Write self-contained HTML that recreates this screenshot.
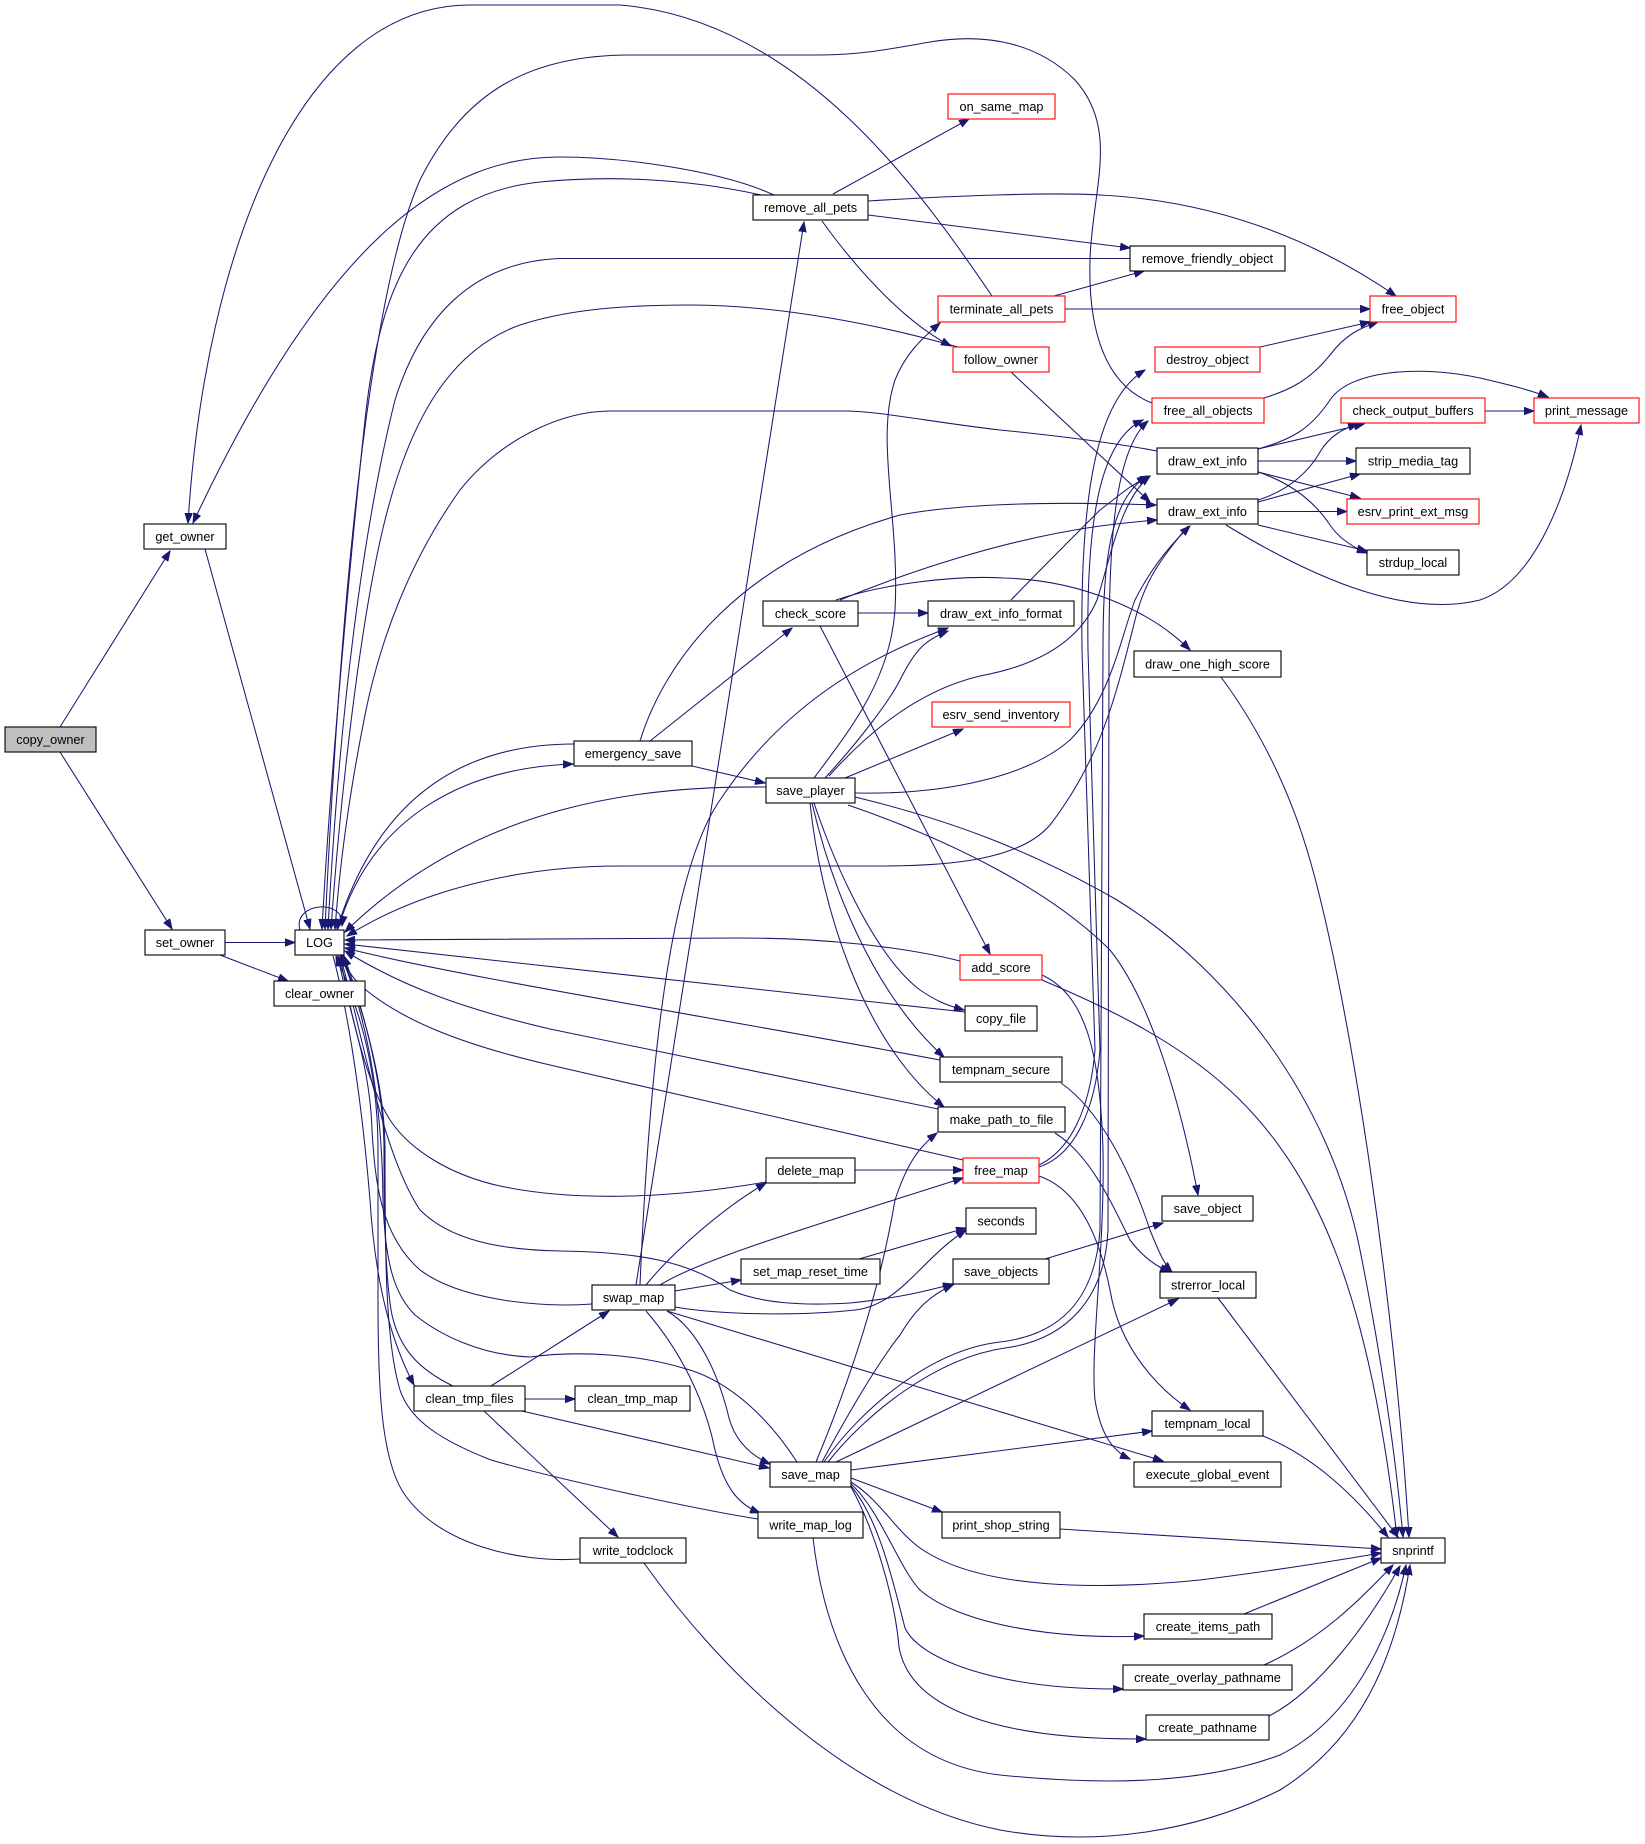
<!DOCTYPE html>
<html><head><meta charset="utf-8"><style>
html,body{margin:0;padding:0;background:#fff;}
svg{display:block;}
text{font-family:"Liberation Sans",Arial,sans-serif;font-size:12.7px;fill:#000;text-anchor:middle;}
.e{fill:none;stroke:#191970;stroke-width:1.05;marker-end:url(#a);}
.n{fill:#fff;stroke:#000;stroke-width:1.1;}
.r{fill:#fff;stroke:#ff0000;stroke-width:1.1;}
</style></head><body>
<svg width="1645" height="1844" viewBox="0 0 1645 1844" xmlns="http://www.w3.org/2000/svg">
<defs><marker id="a" markerWidth="11" markerHeight="8" refX="10" refY="4" orient="auto" markerUnits="userSpaceOnUse"><path d="M0,0.3 L10,4 L0,7.7 z" fill="#191970" stroke="#191970" stroke-width="1"/></marker></defs>
<g>
<path class="e" d="M60,727 L170,551"/>
<path class="e" d="M60,752 L172,929"/>
<path class="e" d="M205,549 L310,929"/>
<path class="e" d="M225,942.5 L295,942.5"/>
<path class="e" d="M220,955 L288,981"/>
<path class="e" d="M300,930 C292,902 346,898 342,926"/>
<path class="e" d="M992,296 C920,190 800,20 620,5 L470,5 C300,5 205,250 188,523"/>
<path class="e" d="M774,195 C720,170 620,157 560,157 C450,157 330,230 193,523"/>
<path class="e" d="M761,195 C680,177 600,176 540,182 C420,195 380,280 365,420 C350,560 330,780 322,929"/>
<path class="e" d="M1152,403 C1105,385 1088,330 1090,260 C1092,190 1120,130 1075,80 C1040,45 990,32 930,42 C890,49 860,55 820,55 L630,55 C520,55 460,100 420,180 C380,270 345,500 325,929"/>
<path class="e" d="M1130,258.5 L560,258.5 C470,262 420,320 395,400 C365,520 340,700 328,929"/>
<path class="e" d="M958,347 C880,325 780,305 690,305 C610,305 560,312 520,325 C450,350 410,420 385,520 C360,620 340,800 331,929"/>
<path class="e" d="M1157,451 C1120,444 1060,436 1000,430 C930,422 880,411 843,411 L611,411 C560,411 500,440 460,490 C410,560 380,640 365,715 C350,790 340,860 335,929"/>
<path class="e" d="M574,744 C470,744 380,790 337,929"/>
<path class="e" d="M338,929 C370,820 460,768 573,764"/>
<path class="e" d="M766,787 C650,786 480,800 345,932"/>
<path class="e" d="M1188,526 C1160,560 1145,580 1135,620 C1115,700 1100,760 1050,825 C1020,860 950,866 880,866 L620,866 C520,866 420,890 347,936"/>
<path class="e" d="M960,961 C900,946 820,938 740,938 L345,940"/>
<path class="e" d="M965,1012 L345,944"/>
<path class="e" d="M940,1060 C700,1015 450,975 345,948"/>
<path class="e" d="M938,1109 L550,1029 C460,1008 400,985 345,951"/>
<path class="e" d="M963,1160 L550,1065 C460,1044 400,1020 360,985 C350,975 345,965 343,956"/>
<path class="e" d="M766,1182 C680,1197 580,1203 500,1186 C450,1175 410,1150 390,1120 C365,1080 350,1010 340,956"/>
<path class="e" d="M592,1304 C540,1308 460,1300 420,1270 C380,1235 375,1180 372,1130 C370,1060 345,1000 338,956"/>
<path class="e" d="M797,1462 C770,1420 730,1380 683,1368 C640,1355 580,1350 530,1357 C480,1355 440,1335 415,1315 C395,1295 385,1265 383,1200 C382,1080 360,1000 341,956"/>
<path class="e" d="M758,1519 C700,1510 560,1480 491,1460 C440,1440 410,1420 400,1390 C385,1340 385,1250 385,1150 C385,1080 360,1000 342,956"/>
<path class="e" d="M580,1559 C520,1563 440,1545 405,1495 C380,1460 378,1380 378,1300 L378,1150 C378,1060 355,1000 336,956"/>
<path class="e" d="M453,1386 C420,1370 400,1350 392,1315 C385,1280 384,1200 384,1150 C384,1080 360,1000 344,956"/>
<path class="e" d="M333,956 C345,1000 360,1080 370,1200 C375,1280 390,1340 414,1385"/>
<path class="e" d="M340,956 C360,1020 380,1150 420,1210 C450,1240 500,1250 560,1251 C640,1252 690,1262 730,1290 C760,1303 800,1306 850,1303 C900,1298 930,1290 953,1284"/>
<path class="e" d="M525,1399 L575,1399"/>
<path class="e" d="M491,1386 L609,1311"/>
<path class="e" d="M522,1411 L769,1468"/>
<path class="e" d="M484,1411 L618,1537"/>
<path class="e" d="M646,1285 C670,1255 720,1210 766,1183"/>
<path class="e" d="M660,1285 C700,1260 800,1230 963,1178"/>
<path class="e" d="M675,1291 L741,1280"/>
<path class="e" d="M675,1307 C720,1315 800,1316 855,1310 C900,1305 920,1260 966,1230"/>
<path class="e" d="M667,1311 L1163,1461"/>
<path class="e" d="M667,1311 C700,1330 720,1380 729,1418 C735,1440 750,1455 770,1464"/>
<path class="e" d="M646,1311 C680,1350 705,1400 715,1450 C725,1490 740,1505 760,1513"/>
<path class="e" d="M636,1285 L804,222"/>
<path class="e" d="M640,1285 C648,1100 665,880 720,800 C780,710 860,660 948,628"/>
<path class="e" d="M859,1259 L966,1228"/>
<path class="e" d="M855,1170 L963,1170"/>
<path class="e" d="M1045,1259 L1163,1223"/>
<path class="e" d="M816,1462 C850,1380 880,1290 895,1200 C905,1170 915,1150 937,1133"/>
<path class="e" d="M822,1462 C850,1410 880,1360 900,1335 C915,1310 930,1295 953,1285"/>
<path class="e" d="M1039,1165 C1070,1150 1090,1110 1095,1050 L1082,650 C1080,500 1095,400 1145,370"/>
<path class="e" d="M1039,1167 C1075,1155 1095,1110 1100,1050 L1088,650 C1086,520 1100,440 1143,420"/>
<path class="e" d="M824,1462 C860,1410 930,1350 1000,1342 C1060,1335 1095,1300 1100,1230 L1103,650 C1103,560 1110,500 1147,476"/>
<path class="e" d="M828,1462 C865,1415 935,1358 1005,1348 C1065,1340 1105,1300 1108,1230 L1109,650 C1109,540 1115,450 1148,421"/>
<path class="e" d="M836,1462 L1178,1299"/>
<path class="e" d="M851,1470 L1152,1431"/>
<path class="e" d="M851,1478 L942,1512"/>
<path class="e" d="M851,1482 C880,1500 895,1530 920,1548 C980,1590 1100,1590 1200,1580 C1280,1570 1340,1560 1381,1553"/>
<path class="e" d="M851,1484 C880,1510 900,1570 920,1590 C960,1625 1060,1640 1144,1636"/>
<path class="e" d="M851,1486 C880,1520 895,1590 905,1628 C920,1660 1000,1690 1123,1689"/>
<path class="e" d="M851,1487 C875,1530 895,1600 899,1647 C910,1710 1000,1740 1146,1739"/>
<path class="e" d="M1060,1529 L1381,1549"/>
<path class="e" d="M1244,1614 L1381,1558"/>
<path class="e" d="M1264,1665 C1320,1640 1360,1600 1393,1565"/>
<path class="e" d="M1269,1716 C1320,1690 1370,1620 1400,1566"/>
<path class="e" d="M813,1538 C825,1640 870,1760 1000,1775 C1100,1785 1200,1785 1280,1755 C1350,1720 1390,1640 1406,1565"/>
<path class="e" d="M644,1563 C720,1670 850,1800 1000,1830 C1100,1848 1200,1830 1280,1790 C1360,1740 1395,1660 1410,1565"/>
<path class="e" d="M1218,1298 L1398,1537"/>
<path class="e" d="M1263,1436 C1310,1455 1350,1490 1388,1537"/>
<path class="e" d="M1221,677 C1260,730 1290,790 1310,860 C1350,1000 1395,1300 1409,1537"/>
<path class="e" d="M855,797 C950,820 1030,850 1117,900 C1230,970 1330,1100 1360,1250 C1380,1350 1395,1450 1403,1537"/>
<path class="e" d="M848,805 C950,840 1050,890 1110,950 C1150,1000 1180,1100 1198,1195"/>
<path class="e" d="M814,803 C840,880 880,960 920,990 C935,1000 945,1005 964,1010"/>
<path class="e" d="M812,803 C830,880 870,990 944,1057"/>
<path class="e" d="M810,803 C820,900 860,1040 944,1107"/>
<path class="e" d="M845,778 L963,729"/>
<path class="e" d="M825,778 C860,740 890,700 900,680 C915,650 925,640 948,631"/>
<path class="e" d="M829,776 C870,730 920,690 980,676 C1040,665 1080,640 1097,600 C1110,560 1120,500 1150,476"/>
<path class="e" d="M814,778 C850,730 890,680 895,610 C900,520 875,440 895,380 C905,355 920,340 940,323"/>
<path class="e" d="M855,793 C950,795 1030,775 1070,740 C1110,700 1120,640 1135,600 C1150,570 1170,545 1190,526"/>
<path class="e" d="M650,741 L792,628"/>
<path class="e" d="M692,766 L765,783"/>
<path class="e" d="M640,741 C665,660 740,560 900,515 C980,500 1100,503 1156,505"/>
<path class="e" d="M858,613 L928,613"/>
<path class="e" d="M836,600 C880,585 950,575 1004,578 C1080,580 1150,610 1190,650"/>
<path class="e" d="M840,600 C900,575 1000,540 1100,526 C1130,522 1145,521 1157,520"/>
<path class="e" d="M820,626 L990,954"/>
<path class="e" d="M1011,600 C1040,570 1080,530 1100,510 C1120,495 1130,485 1150,476"/>
<path class="e" d="M1258,449 L1364,424"/>
<path class="e" d="M1258,449 C1290,440 1310,430 1330,400 C1350,370 1420,365 1480,378 C1510,385 1530,390 1548,397"/>
<path class="e" d="M1258,461 L1356,461"/>
<path class="e" d="M1258,472 L1360,498"/>
<path class="e" d="M1258,472 C1300,486 1320,510 1330,525 C1340,540 1355,548 1367,553"/>
<path class="e" d="M1258,500 C1290,490 1310,470 1320,452 C1330,435 1345,428 1358,424"/>
<path class="e" d="M1258,502 L1360,474"/>
<path class="e" d="M1258,511.5 L1347,511.5"/>
<path class="e" d="M1258,525 L1367,551"/>
<path class="e" d="M1226,525 C1300,570 1400,620 1480,600 C1540,580 1570,480 1581,425"/>
<path class="e" d="M1485,411 L1534,411"/>
<path class="e" d="M1260,347 L1370,322"/>
<path class="e" d="M1264,398 C1290,390 1310,380 1330,355 C1345,335 1360,328 1378,322"/>
<path class="e" d="M1054,296 L1144,271"/>
<path class="e" d="M1065,309 L1370,309"/>
<path class="e" d="M868,215 L1130,248"/>
<path class="e" d="M868,201 C950,196 1050,192 1100,195 C1200,200 1300,230 1396,296"/>
<path class="e" d="M833,194 L969,119"/>
<path class="e" d="M822,221 C850,260 900,320 951,346"/>
<path class="e" d="M1011,372 L1150,502"/>
<path class="e" d="M1042,975 C1085,995 1100,1050 1103,1150 C1105,1250 1090,1350 1095,1400 C1100,1430 1110,1450 1130,1459"/>
<path class="e" d="M1042,980 C1100,1005 1180,1040 1240,1100 C1320,1180 1370,1300 1397,1537"/>
<path class="e" d="M1039,1176 C1080,1190 1100,1240 1110,1290 C1120,1350 1160,1390 1190,1410"/>
<path class="e" d="M1061,1083 C1100,1110 1130,1170 1150,1230 C1160,1255 1165,1265 1172,1272"/>
<path class="e" d="M1055,1133 C1090,1155 1110,1200 1130,1240 C1145,1260 1160,1268 1170,1272"/>
</g>
<g>
<rect x="5" y="727" width="91" height="25" fill="#bfbfbf" stroke="#000" stroke-width="1.1"/><text x="50.5" y="744">copy_owner</text>
<rect class="n" x="144" y="524" width="82" height="25"/><text x="185" y="541">get_owner</text>
<rect class="n" x="145" y="930" width="80" height="25"/><text x="185" y="947">set_owner</text>
<rect class="n" x="295" y="930" width="49" height="25"/><text x="319.5" y="947">LOG</text>
<rect class="n" x="274" y="981" width="91" height="25"/><text x="319.5" y="998">clear_owner</text>
<rect class="n" x="753" y="195" width="115" height="25"/><text x="810.5" y="212">remove_all_pets</text>
<rect class="r" x="948" y="94" width="107" height="25"/><text x="1001.5" y="111">on_same_map</text>
<rect class="n" x="1130" y="246" width="155" height="25"/><text x="1207.5" y="263">remove_friendly_object</text>
<rect class="r" x="938" y="296" width="127" height="26"/><text x="1001.5" y="313.5">terminate_all_pets</text>
<rect class="r" x="1370" y="296" width="86" height="26"/><text x="1413" y="313.5">free_object</text>
<rect class="r" x="953" y="347" width="96" height="25"/><text x="1001" y="364">follow_owner</text>
<rect class="r" x="1155" y="347" width="105" height="25"/><text x="1207.5" y="364">destroy_object</text>
<rect class="r" x="1152" y="398" width="112" height="25"/><text x="1208" y="415">free_all_objects</text>
<rect class="r" x="1341" y="398" width="144" height="25"/><text x="1413" y="415">check_output_buffers</text>
<rect class="r" x="1534" y="398" width="105" height="25"/><text x="1586.5" y="415">print_message</text>
<rect class="n" x="1157" y="448" width="101" height="26"/><text x="1207.5" y="465.5">draw_ext_info</text>
<rect class="n" x="1356" y="448" width="114" height="26"/><text x="1413" y="465.5">strip_media_tag</text>
<rect class="n" x="1157" y="499" width="101" height="25"/><text x="1207.5" y="516">draw_ext_info</text>
<rect class="r" x="1347" y="499" width="132" height="25"/><text x="1413" y="516">esrv_print_ext_msg</text>
<rect class="n" x="1367" y="550" width="92" height="25"/><text x="1413" y="567">strdup_local</text>
<rect class="n" x="763" y="601" width="95" height="25"/><text x="810.5" y="618">check_score</text>
<rect class="n" x="928" y="601" width="146" height="25"/><text x="1001" y="618">draw_ext_info_format</text>
<rect class="n" x="1134" y="651" width="147" height="26"/><text x="1207.5" y="668.5">draw_one_high_score</text>
<rect class="r" x="932" y="702" width="138" height="25"/><text x="1001" y="719">esrv_send_inventory</text>
<rect class="n" x="574" y="741" width="118" height="25"/><text x="633" y="758">emergency_save</text>
<rect class="n" x="766" y="778" width="89" height="25"/><text x="810.5" y="795">save_player</text>
<rect class="r" x="960" y="955" width="82" height="25"/><text x="1001" y="972">add_score</text>
<rect class="n" x="965" y="1006" width="72" height="25"/><text x="1001" y="1023">copy_file</text>
<rect class="n" x="940" y="1057" width="122" height="25"/><text x="1001" y="1074">tempnam_secure</text>
<rect class="n" x="938" y="1107" width="127" height="25"/><text x="1001.5" y="1124">make_path_to_file</text>
<rect class="n" x="766" y="1158" width="89" height="25"/><text x="810.5" y="1175">delete_map</text>
<rect class="r" x="963" y="1158" width="76" height="25"/><text x="1001" y="1175">free_map</text>
<rect class="n" x="1162" y="1196" width="91" height="25"/><text x="1207.5" y="1213">save_object</text>
<rect class="n" x="966" y="1208" width="70" height="26"/><text x="1001" y="1225.5">seconds</text>
<rect class="n" x="741" y="1259" width="139" height="25"/><text x="810.5" y="1276">set_map_reset_time</text>
<rect class="n" x="953" y="1259" width="96" height="25"/><text x="1001" y="1276">save_objects</text>
<rect class="n" x="1160" y="1272" width="96" height="26"/><text x="1208" y="1289.5">strerror_local</text>
<rect class="n" x="592" y="1285" width="83" height="25"/><text x="633.5" y="1302">swap_map</text>
<rect class="n" x="414" y="1386" width="111" height="25"/><text x="469.5" y="1403">clean_tmp_files</text>
<rect class="n" x="575" y="1386" width="115" height="25"/><text x="632.5" y="1403">clean_tmp_map</text>
<rect class="n" x="1152" y="1411" width="111" height="25"/><text x="1207.5" y="1428">tempnam_local</text>
<rect class="n" x="770" y="1462" width="81" height="25"/><text x="810.5" y="1479">save_map</text>
<rect class="n" x="1134" y="1462" width="147" height="25"/><text x="1207.5" y="1479">execute_global_event</text>
<rect class="n" x="758" y="1512" width="105" height="26"/><text x="810.5" y="1529.5">write_map_log</text>
<rect class="n" x="942" y="1512" width="118" height="26"/><text x="1001" y="1529.5">print_shop_string</text>
<rect class="n" x="580" y="1538" width="106" height="25"/><text x="633" y="1555">write_todclock</text>
<rect class="n" x="1381" y="1538" width="64" height="25"/><text x="1413" y="1555">snprintf</text>
<rect class="n" x="1144" y="1614" width="128" height="25"/><text x="1208" y="1631">create_items_path</text>
<rect class="n" x="1123" y="1665" width="169" height="25"/><text x="1207.5" y="1682">create_overlay_pathname</text>
<rect class="n" x="1146" y="1715" width="123" height="25"/><text x="1207.5" y="1732">create_pathname</text>
</g>
</svg>
</body></html>
